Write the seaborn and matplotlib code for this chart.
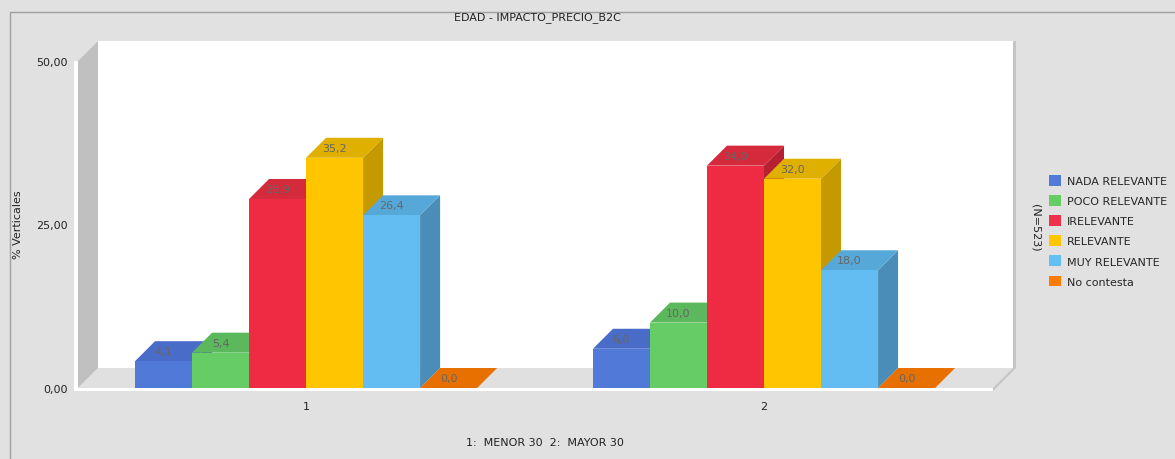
import numpy as np
import pandas as pd
import matplotlib
matplotlib.use("Agg")
import matplotlib.pyplot as plt
from matplotlib.patches import Polygon, Patch
from matplotlib.lines import Line2D
import seaborn as sns

# ---------------- data ----------------
groups = ["1", "2"]
categories = ["NADA RELEVANTE", "POCO RELEVANTE", "IRELEVANTE",
              "RELEVANTE", "MUY RELEVANTE", "No contesta"]
values_g1 = [4.1, 5.4, 28.9, 35.2, 26.4, 0.0]
values_g2 = [6.0, 10.0, 34.0, 32.0, 18.0, 0.0]
yticks = [0, 25, 50]
ytick_labels = ["0,00", "25,00", "50,00"]
title = "EDAD - IMPACTO_PRECIO_B2C"
footer = "1:  MENOR 30  2:  MAYOR 30"
ylabel = "% Verticales"
n_label = "(N=523)"

front_colors = ["#5079d8", "#66cc66", "#ef2b43", "#ffc600", "#63bdf2", "#e87000"]
top_colors = ["#4a6cc9", "#5cb85c", "#d42a3c", "#e0b000", "#56a8d8", "#e87000"]
side_colors = ["#3f5cad", "#4fa34f", "#b52033", "#c49a00", "#4a8db8", "#c05c00"]
legend_colors = ["#5079d8", "#66cc66", "#f0304a", "#ffc600", "#64c0f4", "#ff7b00"]

df = pd.DataFrame({
    "grupo": np.repeat(groups, len(categories)),
    "categoria": categories * len(groups),
    "valor": values_g1 + values_g2,
})

# ---------------- figure ----------------
W, H = 1175, 460
sns.set_style("white")
plt.rcParams["font.family"] = ["DejaVu Sans"]
fig = plt.figure(figsize=(W / 100, H / 100), dpi=100)
bg = "#e1e1e1"
fig.patch.set_facecolor(bg)

# axes = front plane of the 3D box (pixels 78..993 x, 62..389 y)
axL, axR, axT, axB = 78, 993, 62, 389
ax = fig.add_axes([axL / W, (H - axB) / H, (axR - axL) / W, (axB - axT) / H])
ax.set_facecolor("none")

sns.barplot(data=df, x="grupo", y="valor", hue="categoria", order=groups,
            hue_order=categories, palette=front_colors, saturation=1,
            width=0.747, gap=0, edgecolor="none", linewidth=0,
            legend=False, ax=ax, errorbar=None)

x0, x1 = -0.498, 1.5
ax.set_xlim(x0, x1)
ax.set_ylim(0, 50)
for s in ax.spines.values():
    s.set_visible(False)

xs = (x1 - x0) / (axR - axL)   # data units per pixel (x)
ys = 50 / (axB - axT)          # data units per pixel (y)
D = 20
ddx, ddy = D * xs, D * ys

def poly(pts, color, z):
    p = Polygon(pts, closed=True, facecolor=color, edgecolor="none",
                zorder=z, clip_on=False)
    ax.add_patch(p)

# back wall, left wall, floor, edges
poly([(x0 + ddx, ddy), (x1 + ddx, ddy), (x1 + ddx, 50 + ddy), (x0 + ddx, 50 + ddy)], "white", 0.5)
poly([(x0, 0), (x0 + ddx, ddy), (x0 + ddx, 50 + ddy), (x0, 50)], "#c0c0c0", 0.6)
poly([(x0, 0), (x1, 0), (x1 + ddx, ddy), (x0 + ddx, ddy)], "#e0e0e0", 0.6)
poly([(x0 - 4 * xs, -3 * ys), (x1, -3 * ys), (x1, 0), (x0, 0), (x0, 50), (x0 - 4 * xs, 50)], "white", 0.7)
poly([(x1, -3 * ys), (x1 + ddx + 3 * xs, ddy), (x1 + ddx + 3 * xs, 50 + ddy),
      (x1 + ddx, 50 + ddy), (x1 + ddx, ddy), (x1, 0)], "#c4c4c4", 0.7)

# 3D faces derived from seaborn's bars
for i, cont in enumerate(ax.containers):
    for j, bar in enumerate(cont):
        x = bar.get_x()
        w = bar.get_width()
        h = bar.get_height()
        k = j * len(categories) + i
        z = 2 + k * 0.1
        poly([(x + w, 0), (x + w + ddx, ddy), (x + w + ddx, h + ddy), (x + w, h)], side_colors[i], z)
        poly([(x, h), (x + w, h), (x + w + ddx, h + ddy), (x + ddx, h + ddy)], top_colors[i], z + 0.01)
        bar.set_zorder(z + 0.02)
        bar.set_clip_on(False)
        ax.text(x + w / 2, h + ddy / 2, f"{h:.1f}".replace(".", ","),
                ha="center", va="center", fontsize=8, color="#666666", zorder=50)

ax.set_yticks(yticks)
ax.set_yticklabels(ytick_labels)
ax.set_xticks([0, 1])
ax.set_xticklabels(groups)
ax.tick_params(axis="y", length=0, pad=7.2, labelsize=8, labelcolor="#222222")
ax.tick_params(axis="x", length=0, pad=9.5, labelsize=8, labelcolor="#222222")
ax.set_xlabel("")
ax.set_ylabel("")

# texts
fig.text(537 / W, 1 - 18 / H, title, ha="center", va="center", fontsize=8, color="#222222")
fig.text(545 / W, 1 - 443 / H, footer, ha="center", va="center", fontsize=8, color="#222222")
fig.text(18 / W, 1 - 225 / H, ylabel, rotation=90, ha="center", va="center", fontsize=8, color="#222222")
fig.text(1035 / W, 1 - 228 / H, n_label, rotation=-90, ha="center", va="center", fontsize=8, color="#222222")

# frame lines
fig.add_artist(Line2D([10 / W, 10 / W], [0, 1 - 13 / H], color="#a0a0a0", lw=1))
fig.add_artist(Line2D([10 / W, 1], [1 - 13 / H, 1 - 13 / H], color="#a0a0a0", lw=1))

# legend
handles = [Patch(facecolor=c, edgecolor="none") for c in legend_colors]
fig.legend(handles, categories, loc="upper left",
           bbox_to_anchor=(1049 / W, 1 - 176 / H), frameon=False, fontsize=8,
           handlelength=1.1, handleheight=1.1, handletextpad=0.5,
           labelspacing=0.81, borderaxespad=0, borderpad=0)

fig.savefig("out.png", dpi=100, facecolor=bg)
